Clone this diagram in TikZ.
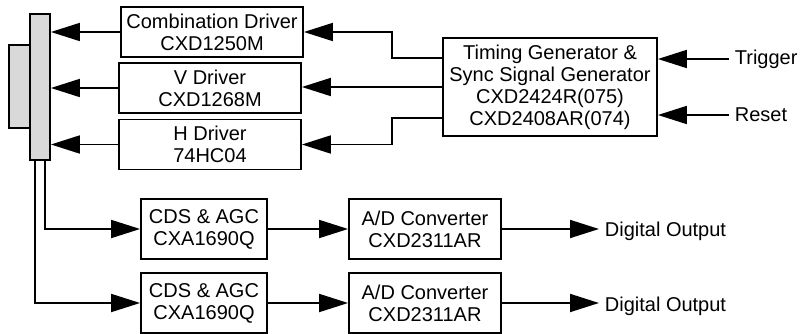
\documentclass[tikz,border=0pt]{standalone}
\usepackage{fontspec}
\setmainfont{Liberation Sans}
\usetikzlibrary{arrows.meta}

\begin{document}
\begin{tikzpicture}[
		x=1pt,
		y=-1pt,
		>={Triangle[length=29pt, width=18pt]},
		font=\fontsize{20}{22}\selectfont,
		line width=1.8pt,
		box/.style={draw, align=center, inner sep=0pt, minimum height=50pt, minimum width=182pt},
		smallbox/.style={draw, align=center, inner sep=0pt, minimum height=60pt, minimum width=126pt},
		adcbox/.style={draw, align=center, inner sep=0pt, minimum height=60pt, minimum width=152pt},
		label/.style={anchor=west, inner sep=5pt}
	]
		\useasboundingbox (0,0) rectangle (800,334);

		% sensor with its connector pad
		\node[draw, fill=gray!30, minimum width=21pt, minimum height=83pt, inner sep=0pt] (pad) at (19.5,86.5) {};
		\node[draw, fill=gray!30, minimum width=20pt, minimum height=146pt, inner sep=0pt] (sensor) at (40,87) {};

		\node[box] (comb) at (212,32)  {Combination Driver\\CXD1250M};
		\node[box] (vdrv) at (210,88)  {V Driver\\CXD1268M};
		\node[box] (hdrv) at (210,144.5) {H Driver\\74HC04};

		\node[draw, align=center, inner sep=0pt, minimum width=214pt, minimum height=98pt] (timing) at (550,87)
			{Timing Generator \&\\Sync Signal Generator\\CXD2424R(075)\\CXD2408AR(074)};

		\node[label] (trig)  at (729,59)  {Trigger};
		\node[label] (reset) at (729,115) {Reset};

		\node[smallbox] (cds1) at (204,229) {CDS \& AGC\\CXA1690Q};
		\node[smallbox] (cds2) at (204,303) {CDS \& AGC\\CXA1690Q};
		\node[adcbox]   (adc1) at (425,229) {A/D Converter\\CXD2311AR};
		\node[adcbox]   (adc2) at (425,303) {A/D Converter\\CXD2311AR};

		\node[label] (dout1) at (599,231) {Digital Output};
		\node[label] (dout2) at (599,306) {Digital Output};

		% drivers to sensor
		\draw[->] (comb.west) -- (comb.west -| sensor.east);
		\draw[->] (vdrv.west) -- (vdrv.west -| sensor.east);
		\draw[->] (hdrv.west) -- (hdrv.west -| sensor.east);

		% timing generator to drivers
		\draw[->] ([yshift=29pt]timing.west) -- ++(-50,0) |- (comb.east);
		\draw[->] (timing.west) -- (timing.west -| vdrv.east);
		\draw[->] ([yshift=-31pt]timing.west) -- ++(-50,0) |- (hdrv.east);

		\draw[->] (trig.west) -- (trig.west -| timing.east);
		\draw[->] (reset.west) -- (reset.west -| timing.east);

		% signal chain
		\draw[->] ([xshift=5pt]sensor.south) |- (cds1.west);
		\draw[->] ([xshift=-5pt]sensor.south) |- (cds2.west);

		\draw[->] (cds1.east) -- (adc1.west);
		\draw[->] (cds2.east) -- (adc2.west);

		\draw[->] (adc1.east) -- (adc1.east -| dout1.west);
		\draw[->] (adc2.east) -- (adc2.east -| dout2.west);
	\end{tikzpicture}
\end{document}
